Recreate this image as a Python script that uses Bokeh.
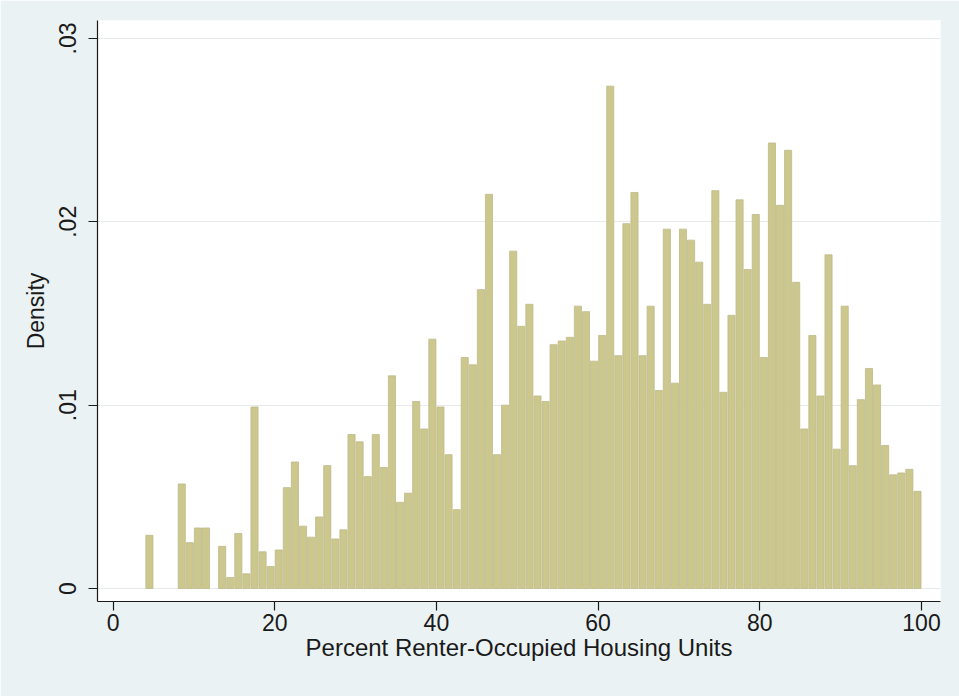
from bokeh.plotting import figure
from bokeh.models import ColumnDataSource, FixedTicker, Range1d
from bokeh.embed import file_html
from bokeh.resources import INLINE

# Histogram of percent renter-occupied housing units, one-unit bins
bin_left = list(range(4, 100))
bin_width = 1.0
density = [
    0.0029, 0.0, 0.0, 0.0, 0.0057, 0.0025, 0.0033, 0.0033, 0.0, 0.0023,   # 4-13
    0.0006, 0.0030, 0.0008, 0.0099, 0.0020, 0.0012, 0.0021, 0.0055, 0.0069, 0.0034,  # 14-23
    0.0028, 0.0039, 0.0067, 0.0027, 0.0032, 0.0084, 0.0080, 0.0061, 0.0084, 0.0066,  # 24-33
    0.0116, 0.0047, 0.0052, 0.0102, 0.0087, 0.0136, 0.0099, 0.0073, 0.0043, 0.0126,  # 34-43
    0.0122, 0.0163, 0.0215, 0.0073, 0.0100, 0.0184, 0.0143, 0.0155, 0.0105, 0.0102,  # 44-53
    0.0133, 0.0135, 0.0137, 0.0154, 0.0151, 0.0124, 0.0138, 0.0274, 0.0127, 0.0199,  # 54-63
    0.0216, 0.0127, 0.0154, 0.0108, 0.0196, 0.0112, 0.0196, 0.0190, 0.0178, 0.0155,  # 64-73
    0.0217, 0.0107, 0.0149, 0.0212, 0.0174, 0.0204, 0.0126, 0.0243, 0.0209, 0.0239,  # 74-83
    0.0167, 0.0087, 0.0138, 0.0105, 0.0182, 0.0076, 0.0154, 0.0067, 0.0103, 0.0120,  # 84-93
    0.0111, 0.0078, 0.0062, 0.0063, 0.0065, 0.0053,                                  # 94-99
]

x_ticks = [0, 20, 40, 60, 80, 100]
y_ticks = [0, 0.01, 0.02, 0.03]
y_tick_labels = ["0", ".01", ".02", ".03"]

x_title = "Percent Renter-Occupied Housing Units"
y_title = "Density"

FONT = "Liberation Sans"
TEXT_COLOR = "#1a1a1a"
BAR_FILL = "#ccc78c"
BAR_LINE = "#beba8c"
REGION_BG = "#eaf2f3"

# empty bins are not drawn
inset = 0.06 * bin_width
filled = [(b, d) for b, d in zip(bin_left, density) if d > 0]
src = ColumnDataSource(dict(
    left=[b + inset for b, _ in filled],
    right=[b + bin_width - inset for b, _ in filled],
    top=[d for _, d in filled],
    bottom=[0.0] * len(filled),
))

p = figure(
    width=959, height=696,
    x_range=Range1d(-1.92, 102.35),
    y_range=Range1d(-0.00071, 0.03098),
    output_backend="svg", toolbar_location=None,
    min_border_left=97, min_border_right=19,
    min_border_top=20, min_border_bottom=95,
)
p.background_fill_color = "white"
p.border_fill_color = REGION_BG
p.outline_line_color = None

p.quad(left="left", right="right", top="top", bottom="bottom", source=src,
       fill_color=BAR_FILL, line_color=BAR_LINE, line_width=0.8)

# grid: horizontal only
p.xgrid.grid_line_color = None
p.ygrid.grid_line_color = "#e6eaea"
p.ygrid.grid_line_width = 1
p.ygrid.ticker = FixedTicker(ticks=y_ticks)

# x axis
p.xaxis.ticker = FixedTicker(ticks=x_ticks)
p.xaxis.axis_label = x_title
p.xaxis.axis_label_text_font = FONT
p.xaxis.axis_label_text_font_style = "normal"
p.xaxis.axis_label_text_font_size = "24px"
p.xaxis.axis_label_text_color = TEXT_COLOR
p.xaxis.axis_label_standoff = 0
p.xaxis.major_label_text_font = FONT
p.xaxis.major_label_text_font_size = "23px"
p.xaxis.major_label_text_color = TEXT_COLOR
p.xaxis.major_label_standoff = 3

# y axis
p.yaxis.ticker = FixedTicker(ticks=y_ticks)
p.yaxis.major_label_overrides = {t: s for t, s in zip(y_ticks, y_tick_labels)}
p.yaxis.major_label_orientation = "vertical"
p.yaxis.axis_label = y_title
p.yaxis.axis_label_text_font = FONT
p.yaxis.axis_label_text_font_style = "normal"
p.yaxis.axis_label_text_font_size = "23px"
p.yaxis.axis_label_text_color = TEXT_COLOR
p.yaxis.axis_label_standoff = 8
p.yaxis.major_label_text_font = FONT
p.yaxis.major_label_text_font_size = "23px"
p.yaxis.major_label_text_color = TEXT_COLOR
p.yaxis.major_label_standoff = 12

for ax in (p.xaxis, p.yaxis):
    ax.axis_line_color = TEXT_COLOR
    ax.axis_line_width = 1.2
    ax.major_tick_line_color = TEXT_COLOR
    ax.major_tick_line_width = 1.2
    ax.major_tick_out = 9
    ax.major_tick_in = 0
    ax.minor_tick_line_color = None

open("out.html", "w").write(file_html(p, INLINE))
